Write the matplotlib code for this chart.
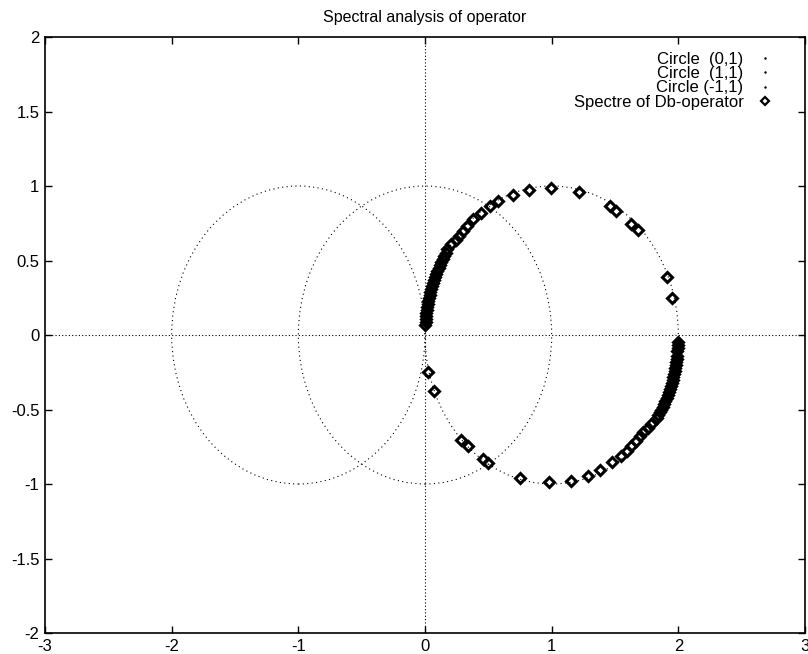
import matplotlib
matplotlib.use("Agg")
import matplotlib.pyplot as plt
from matplotlib.patches import Circle
from matplotlib.lines import Line2D

plt.rcParams['font.family'] = ['Liberation Sans', 'DejaVu Sans']

# reference circles: centre on the real axis, radius
circle_cx = [0, 1, -1]
circle_r = [1, 1, 1]
circle_labels = ['Circle  (0,1)', 'Circle  (1,1)', 'Circle (-1,1)']

# eigenvalues of the Db-operator (real, imaginary parts)
spec_x = [
    # upper branch, accumulating near 0
    0.002, 0.004, 0.006, 0.008, 0.011, 0.015, 0.018, 0.022, 0.027, 0.032,
    0.037, 0.043, 0.049, 0.056, 0.063, 0.071, 0.079, 0.088, 0.097, 0.107,
    0.117, 0.128, 0.140, 0.152, 0.165,
    0.175, 0.209, 0.241, 0.267, 0.299, 0.333, 0.381, 0.439, 0.511, 0.578,
    0.693, 0.824, 0.992, 1.218, 1.459, 1.506, 1.624, 1.683, 1.91, 1.95,
    # lower branch, accumulating near 2
    1.998, 1.997, 1.995, 1.993, 1.990, 1.987, 1.984, 1.980, 1.976, 1.971,
    1.966, 1.960, 1.954, 1.947, 1.940, 1.933, 1.925, 1.917, 1.908, 1.898,
    1.888, 1.877, 1.866, 1.854, 1.842, 1.829,
    1.784, 1.757, 1.723, 1.696, 1.664, 1.630, 1.595, 1.545, 1.475, 1.380,
    1.286, 1.150, 0.980, 0.750, 0.500, 0.460, 0.339, 0.288, 0.070, 0.022,
]
spec_y = [
    0.07, 0.09, 0.11, 0.13, 0.15, 0.17, 0.19, 0.21, 0.23, 0.25,
    0.27, 0.29, 0.31, 0.33, 0.35, 0.37, 0.39, 0.41, 0.43, 0.45,
    0.47, 0.49, 0.51, 0.53, 0.55,
    0.577, 0.611, 0.638, 0.667, 0.700, 0.733, 0.778, 0.819, 0.864, 0.900,
    0.940, 0.973, 0.987, 0.962, 0.864, 0.830, 0.745, 0.705, 0.39, 0.25,
    -0.05, -0.07, -0.09, -0.11, -0.14, -0.16, -0.18, -0.20, -0.22, -0.24,
    -0.26, -0.28, -0.30, -0.32, -0.34, -0.36, -0.38, -0.40, -0.42, -0.44,
    -0.46, -0.48, -0.50, -0.52, -0.54, -0.56,
    -0.597, -0.626, -0.653, -0.680, -0.709, -0.745, -0.780, -0.815, -0.855, -0.906,
    -0.944, -0.978, -0.989, -0.962, -0.861, -0.832, -0.747, -0.703, -0.378, -0.248,
]

fig = plt.figure(figsize=(8.08, 6.54), dpi=100)
ax = fig.add_axes([0.0557, 0.0321, 0.9406, 0.9113])

# dotted zero axes
ax.axhline(0, color='black', lw=0.8, ls=(0, (1, 2)), zorder=1)
ax.axvline(0, color='black', lw=0.8, ls=(0, (1, 2)), zorder=1)

handles = []
for cx, r, lab in zip(circle_cx, circle_r, circle_labels):
    ax.add_patch(Circle((cx, 0), r, fill=False, edgecolor='black', lw=0.8,
                        ls=(0, (1, 3)), zorder=2))
    handles.append(Line2D([], [], ls='none', marker='.', ms=1.5,
                          color='black', label=lab))

# hollow diamonds, so that close eigenvalues merge into a solid band
ax.plot(spec_x, spec_y, ls='none', marker='D', ms=5.5, mew=2.2,
        mfc='none', mec='black', zorder=3)
handles.append(Line2D([], [], ls='none', marker='D', ms=4, mew=1.6,
                      mfc='none', mec='black', label='Spectre of Db-operator'))

ax.set_xlim(-3, 3)
ax.set_ylim(-2, 2)
ax.set_xticks([-3, -2, -1, 0, 1, 2, 3])
ax.set_yticks([-2, -1.5, -1, -0.5, 0, 0.5, 1, 1.5, 2])
ax.set_xticklabels(['-3', '-2', '-1', '0', '1', '2', '3'])
ax.set_yticklabels(['-2', '-1.5', '-1', '-0.5', '0', '0.5', '1', '1.5', '2'])
ax.tick_params(direction='in', length=5, width=1, top=True, right=True,
               labelsize=12, pad=4)
for s in ax.spines.values():
    s.set_linewidth(1.2)

ax.set_title('Spectral analysis of operator', fontsize=11.5, pad=11)

ax.legend(handles=handles, loc='upper right', bbox_to_anchor=(0.985, 1.0),
          frameon=False, markerfirst=False, fontsize=12, labelspacing=-0.05,
          handlelength=1.6, handletextpad=0.5, borderaxespad=0.5)

fig.savefig('out.png', dpi=100)
